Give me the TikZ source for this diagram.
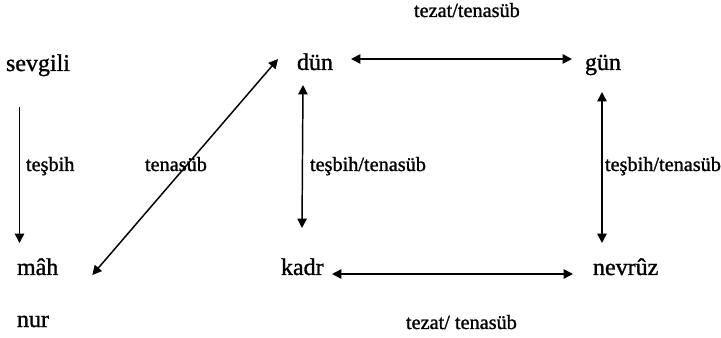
\documentclass[tikz,border=0pt]{standalone}
\usepackage{fontspec}
\setmainfont{Liberation Serif}
\newfontfamily\heavy[FakeBold=1.2]{Liberation Serif}
\usetikzlibrary{arrows.meta}
\tikzset{
  word/.style={anchor=base west, inner sep=0pt, outer sep=0pt, font=\heavy\fontsize{18pt}{20pt}\selectfont},
  lbl/.style={anchor=base west, inner sep=0pt, outer sep=0pt, font=\heavy\fontsize{15.2pt}{17pt}\selectfont},
  link/.style={line width=1.1pt, {Triangle[length=7pt,width=7pt]}-{Triangle[length=7pt,width=7pt]}},
  onelink/.style={line width=1.1pt, -{Triangle[length=7pt,width=7pt]}}
}
\begin{document}
\begin{tikzpicture}[x=0.75pt, y=-0.75pt]
\useasboundingbox (0,0) rectangle (721,338);
% words
\node[word] (sevgili) at (6,71) {sevgili};
\node[word] (mah) at (17,275) {mâh};
\node[word] (nur) at (17,327) {nur};
\node[word] (dun) at (297,70) {dün};
\node[word] (gun) at (585,70) {gün};
\node[word] (kadr) at (281,275) {kadr};
\node[word] (nevruz) at (593,275) {nevrûz};
% labels
\node[lbl] (l1) at (414,17) {tezat/tenasüb};
\node[lbl] (l2) at (406,329) {tezat/ tenasüb};
\node[lbl] (l3) at (26,171) {teşbih};
\node[lbl] (l4) at (145,171) {tenasüb};
\node[lbl] (l5) at (310,171) {teşbih/tenasüb};
\node[lbl] (l6) at (605,171) {teşbih/tenasüb};
% connectors
\draw[onelink] ([shift={(13.5,36)}]sevgili.base west) -- ([shift={(2.5,-32)}]mah.base west);
\draw[link] ([shift={(34,0)}]mah.base east) -- ([shift={(-19,-11)}]dun.base west);
\draw[link] ([shift={(18,-11)}]dun.base east) -- ([shift={(-13,-11)}]gun.base west);
\draw[link] ([shift={(6,15)}]dun.base west) -- ([shift={(21,-47)}]kadr.base west);
\draw[link] ([shift={(17,22)}]gun.base west) -- ([shift={(9,-32)}]nevruz.base west);
\draw[link] ([shift={(8.4,-1)}]kadr.base east) -- ([shift={(-20,-1)}]nevruz.base west);
\end{tikzpicture}
\end{document}
